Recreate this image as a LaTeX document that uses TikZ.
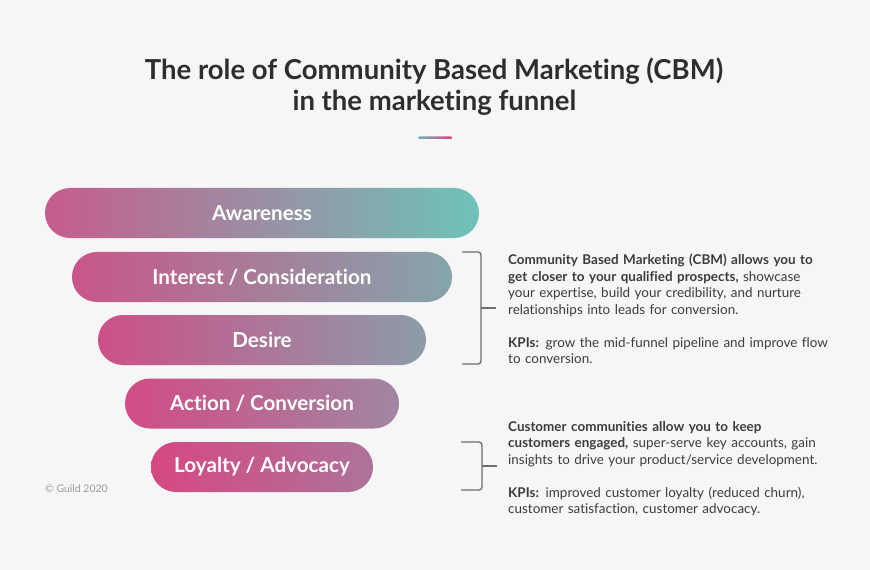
\documentclass[tikz,border=0pt]{standalone}
\usepackage{fontspec}
\setmainfont{Lato}[Ligatures=NoCommon]
\usetikzlibrary{positioning}

\definecolor{bggrey}{HTML}{F6F6F6}
\definecolor{titletext}{HTML}{2E2E2E}
\definecolor{bodytext}{HTML}{3C3C3C}
\definecolor{bracketgrey}{HTML}{6E6E6E}
\definecolor{notegrey}{HTML}{9A9A9A}
\definecolor{lineteal}{HTML}{6AB8B5}
\definecolor{linepink}{HTML}{E8407A}

\begin{document}
\begin{tikzpicture}[x=1bp,y=-1bp]
\tikzset{
  stage/.style={rectangle,rounded corners=25bp,minimum height=50bp,inner sep=0pt,text=white,font=\bfseries\fontsize{20.7}{24}\selectfont},
  bracket/.style={draw=bracketgrey,line width=1.3bp,rounded corners=3bp},
  note/.style={anchor=north west,inner sep=0pt,text width=360bp,align=left,text=bodytext,font=\fontsize{13.5}{16.5}\selectfont},
  heading/.style={anchor=base,inner sep=0pt,text=titletext,font=\bfseries\fontsize{27.6}{31}\selectfont}
}
\fill[bggrey] (0,0) rectangle (870,570);
\node[heading] (n_title1) at (434,80) {The role of Community Based Marketing (CBM)};
\node[heading] (n_title2) at (434.5,111) {in the marketing funnel};
\shade[left color=lineteal,right color=linepink,rounded corners=1bp] (418,136.5) rectangle (452,139);
% funnel stages
\node[stage,minimum width=434bp,left color={rgb,255:red,198;green,92;blue,141},right color={rgb,255:red,110;green,195;blue,185}] (n_aware) at (262,213) {Awareness};
\node[stage,minimum width=380bp,left color={rgb,255:red,200;green,86;blue,137},right color={rgb,255:red,133;green,165;blue,171}] (n_interest) at (262,277) {Interest / Consideration};
\node[stage,minimum width=328bp,left color={rgb,255:red,205;green,80;blue,135},right color={rgb,255:red,140;green,156;blue,170}] (n_desire) at (262,340) {Desire};
\node[stage,minimum width=274bp,left color={rgb,255:red,210;green,76;blue,133},right color={rgb,255:red,160;green,134;blue,162}] (n_action) at (262,403.5) {Action / Conversion};
\node[stage,minimum width=222bp,left color={rgb,255:red,214;green,72;blue,130},right color={rgb,255:red,173;green,115;blue,153}] (n_loyal) at (262,467) {Loyalty / Advocacy};
% brackets
\coordinate (b1_top) at (462,252);
\coordinate (b1_bot) at (462,364);
\coordinate (b1_tip) at (496,308);
\draw[bracket] (b1_top) -- (481,252) -- (481,364) -- (b1_bot);
\draw[bracket] (481,308) -- (b1_tip);
\coordinate (b2_top) at (461,442);
\coordinate (b2_bot) at (461,490);
\coordinate (b2_tip) at (497,466);
\draw[bracket] (b2_top) -- (482,442) -- (482,490) -- (b2_bot);
\draw[bracket] (482,466) -- (b2_tip);
% notes
\node[note] (n_cbm) at (508,254) {\textbf{Community Based Marketing (CBM) allows you to}\\
\textbf{get closer to your qualified prospects,} showcase\\
your expertise, build your credibility, and nurture\\
relationships into leads for conversion.\\[16.5bp]
\textbf{KPIs:} grow the mid-funnel pipeline and improve flow\\
to conversion.};
\node[note] (n_comm) at (508,421) {\textbf{Customer communities allow you to keep}\\
\textbf{customers engaged,} super-serve key accounts, gain\\
insights to drive your product/service development.\\[16.5bp]
\textbf{KPIs:} improved customer loyalty (reduced churn),\\
customer satisfaction, customer advocacy.};
\node[anchor=west,inner sep=0pt,text=notegrey,font=\fontsize{10.5}{12}\selectfont] (n_copy) at (45,489) {© Guild 2020};
\end{tikzpicture}
\end{document}
